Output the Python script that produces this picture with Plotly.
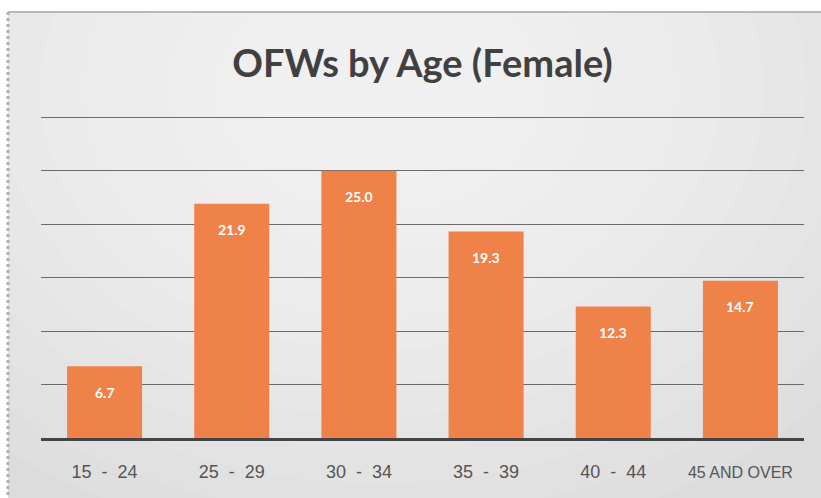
import plotly.graph_objects as go

categories = ["15 - 24", "25 - 29", "30 - 34", "35 - 39", "40 - 44", "45 AND OVER"]
values = [6.7, 21.9, 25.0, 19.3, 12.3, 14.7]
tick_labels = ["15\u00a0\u00a0-\u00a0\u00a024", "25\u00a0\u00a0-\u00a0\u00a029", "30\u00a0\u00a0-\u00a0\u00a034",
               "35\u00a0\u00a0-\u00a0\u00a039", "40\u00a0\u00a0-\u00a0\u00a044",
               '<span style="font-size:16px">45 AND OVER</span>']
title_text = "OFWs by Age (Female)"

W, H = 821, 498
ml, mr, mt, mb = 41, 17, 114, 60
pw, ph = W - ml - mr, H - mt - mb

def px_x(x):
    return (x - ml) / pw

def px_y(y):
    return (H - mb - y) / ph

fig = go.Figure()
fig.add_trace(go.Bar(
    x=categories, y=values,
    marker=dict(color="#EE8249", line=dict(width=0)),
    hoverinfo="skip",
))

for c, v in zip(categories, values):
    fig.add_annotation(x=c, y=v, text=f"<b>{v:.1f}</b>", showarrow=False,
                       yshift=-26, font=dict(family="Lato, sans-serif", size=14, color="white"))

shapes = []
# frame background
shapes.append(dict(type="rect", xref="paper", yref="paper", layer="below",
                   x0=px_x(8), x1=px_x(W + 5), y0=px_y(H + 5), y1=px_y(12),
                   fillcolor="#dcdcdc", line=dict(width=0)))
# soft radial highlight
cx, cy = 380, 90
for k in range(12):
    f = 1 - k / 12
    rx, ry = 80 + 520 * f, 60 + 400 * f
    shapes.append(dict(type="circle", xref="paper", yref="paper", layer="below",
                       x0=px_x(cx - rx), x1=px_x(cx + rx), y0=px_y(cy + ry), y1=px_y(cy - ry),
                       fillcolor="rgba(255,255,255,0.09)", line=dict(width=0)))
# top frame line
shapes.append(dict(type="line", xref="paper", yref="paper", layer="below",
                   x0=px_x(8), x1=px_x(W + 5), y0=px_y(12), y1=px_y(12),
                   line=dict(color="#b8b8b8", width=2)))
# left dashed border
shapes.append(dict(type="line", xref="paper", yref="paper", layer="below",
                   x0=px_x(8), x1=px_x(8), y0=px_y(12), y1=px_y(H + 5),
                   line=dict(color="#b0b0b0", width=3, dash="dot")))

fig.update_layout(
    width=W, height=H,
    margin=dict(l=ml, r=mr, t=mt, b=mb),
    paper_bgcolor="white",
    plot_bgcolor="rgba(0,0,0,0)",
    bargap=0.41,
    showlegend=False,
    shapes=shapes,
    title=dict(text=f"<b>{title_text}</b>", x=0.5, xanchor="center", xref="paper",
               y=1 - 64 / H, yref="container", yanchor="middle",
               font=dict(family="Lato, sans-serif", size=38, color="#404040")),
    xaxis=dict(
        tickmode="array", tickvals=categories, ticktext=tick_labels,
        tickfont=dict(family="Liberation Sans, Arial, sans-serif", size=18, color="#555555"),
        showline=True, linecolor="#444444", linewidth=3,
        ticks="", ticklabelstandoff=15, showgrid=False,
    ),
    yaxis=dict(
        range=[0, 30.3], dtick=5, showticklabels=False, showgrid=True,
        gridcolor="#6a6a6a", gridwidth=1, zeroline=False, showline=False,
    ),
)

fig.write_html("out.html", config={"displayModeBar": False},
               post_script="document.body.style.margin='0';")
